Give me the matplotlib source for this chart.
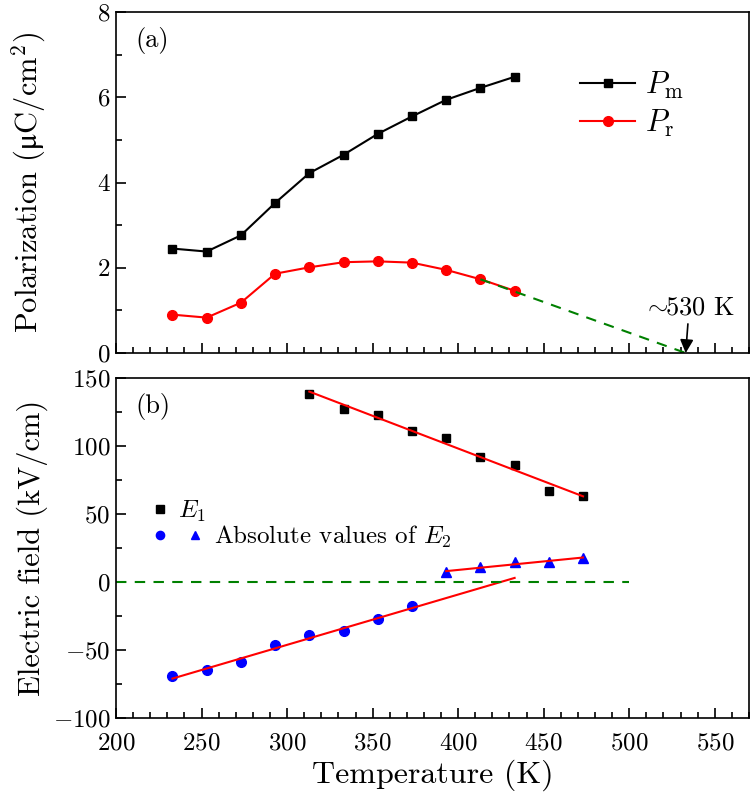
import matplotlib
matplotlib.use("Agg")
import matplotlib.pyplot as plt
from matplotlib.ticker import MultipleLocator
from matplotlib.legend_handler import HandlerTuple

plt.rcParams['font.family'] = ['cmr10', 'DejaVu Serif']
plt.rcParams['mathtext.fontset'] = 'cm'
plt.rcParams['axes.formatter.use_mathtext'] = True
plt.rcParams['axes.unicode_minus'] = True

# panel (a) data
temp_a = [233, 253, 273, 293, 313, 333, 353, 373, 393, 413, 433]
p_m = [2.45, 2.38, 2.76, 3.52, 4.22, 4.65, 5.14, 5.55, 5.94, 6.22, 6.48]
p_r = [0.90, 0.83, 1.18, 1.86, 2.01, 2.13, 2.15, 2.12, 1.95, 1.73, 1.46]
extrap_t = [413, 533]
extrap_p = [1.73, 0.0]

# panel (b) data
temp_e1 = [313, 333, 353, 373, 393, 413, 433, 453, 473]
e1 = [138, 127, 123, 111, 106, 92, 86, 67, 63]
temp_e2_neg = [233, 253, 273, 293, 313, 333, 353, 373]
e2_neg = [-69, -65, -59, -46, -39, -36, -27, -18]
temp_e2_pos = [393, 413, 433, 453, 473]
e2_pos = [7, 11, 15, 15, 18]
fit_e1_t = [313, 473]
fit_e1 = [140, 63]
fit_neg_t = [233, 433]
fit_neg = [-71, 3]
fit_pos_t = [393, 473]
fit_pos = [8, 18]

fig = plt.figure(figsize=(7.55, 7.96), dpi=100)
W, H = 755, 796
ax1 = fig.add_axes([116 / W, 1 - 353 / H, (749 - 116) / W, (353 - 12) / H])
ax2 = fig.add_axes([116 / W, 1 - 718 / H, (749 - 116) / W, (718 - 378) / H])

ax1.plot(temp_a, p_m, '-s', color='black', ms=6, lw=1.5, label=r'$P_{\rm m}$')
ax1.plot(temp_a, p_r, '-o', color='red', ms=7, lw=1.5, label=r'$P_{\rm r}$')
ax1.plot(extrap_t, extrap_p, '--', color='green', lw=1.5, dashes=(5, 4))
ax1.annotate(r'${\sim}\!\!$530 K', xy=(533, 0), xytext=(535, 0.78), ha='center',
             va='bottom', fontsize=19,
             arrowprops=dict(arrowstyle='-|>', color='black', lw=1.2,
                             mutation_scale=20, shrinkA=1, shrinkB=0))
ax1.set_ylim(0, 8)
ax1.set_ylabel(r'Polarization ($\mathrm{μ}$C/cm$^2$)', fontsize=22)
ax1.text(0.03, 0.955, '(a)', transform=ax1.transAxes, fontsize=19, va='top')
ax1.yaxis.set_major_locator(MultipleLocator(2))
ax1.yaxis.set_minor_locator(MultipleLocator(1))
ax1.tick_params(labelbottom=False)
ax1.legend(loc='upper right', bbox_to_anchor=(0.94, 0.91), frameon=False,
           fontsize=22, handlelength=1.8, handletextpad=0.3, labelspacing=0.2)

h_e1, = ax2.plot(temp_e1, e1, 's', color='black', ms=6)
ax2.plot(fit_e1_t, fit_e1, '-', color='red', lw=1.5)
l_c, = ax2.plot(temp_e2_neg, e2_neg, 'o', color='blue', ms=7)
l_t, = ax2.plot(temp_e2_pos, e2_pos, '^', color='blue', ms=7)
ax2.plot(fit_neg_t, fit_neg, '-', color='red', lw=1.5)
ax2.plot(fit_pos_t, fit_pos, '-', color='red', lw=1.5)
ax2.plot([200, 500], [0, 0], '--', color='green', lw=1.5, dashes=(5, 4))
ax2.set_ylim(-100, 150)
ax2.set_xlabel('Temperature (K)', fontsize=23, labelpad=4)
ax2.set_ylabel('Electric field (kV/cm)', fontsize=22)
ax2.text(0.03, 0.955, '(b)', transform=ax2.transAxes, fontsize=19, va='top')
ax2.yaxis.set_major_locator(MultipleLocator(50))
ax2.yaxis.set_minor_locator(MultipleLocator(25))

leg1 = ax2.legend([h_e1], [r'$E_1$'], loc='upper left',
                  bbox_to_anchor=(0.049, 0.645), frameon=False, fontsize=18,
                  handlelength=1.04, handletextpad=0.2, borderpad=0,
                  borderaxespad=0, markerscale=0.85)
ax2.add_artist(leg1)
ax2.legend([(l_c, l_t)], [r'Absolute values of $E_2$'],
           handler_map={tuple: HandlerTuple(ndivide=None, pad=0.36)},
           loc='upper left', bbox_to_anchor=(0.049, 0.57), frameon=False,
           fontsize=18, handlelength=2.44, handletextpad=0.25, borderpad=0,
           borderaxespad=0, markerscale=0.85)

for ax in (ax1, ax2):
    ax.set_xlim(200, 570)
    ax.xaxis.set_major_locator(MultipleLocator(50))
    ax.xaxis.set_minor_locator(MultipleLocator(10))
    ax.tick_params(which='both', direction='in', top=False, right=False,
                   labelsize=18, width=1.2)
    ax.tick_params(which='major', length=7)
    ax.tick_params(which='minor', length=4)
    ax.tick_params(axis='x', pad=10)
    ax.tick_params(axis='y', pad=4)
    ax.yaxis.set_label_coords(-0.108, 0.5)
    for s in ax.spines.values():
        s.set_linewidth(1.2)

fig.savefig('out.png', dpi=100)
